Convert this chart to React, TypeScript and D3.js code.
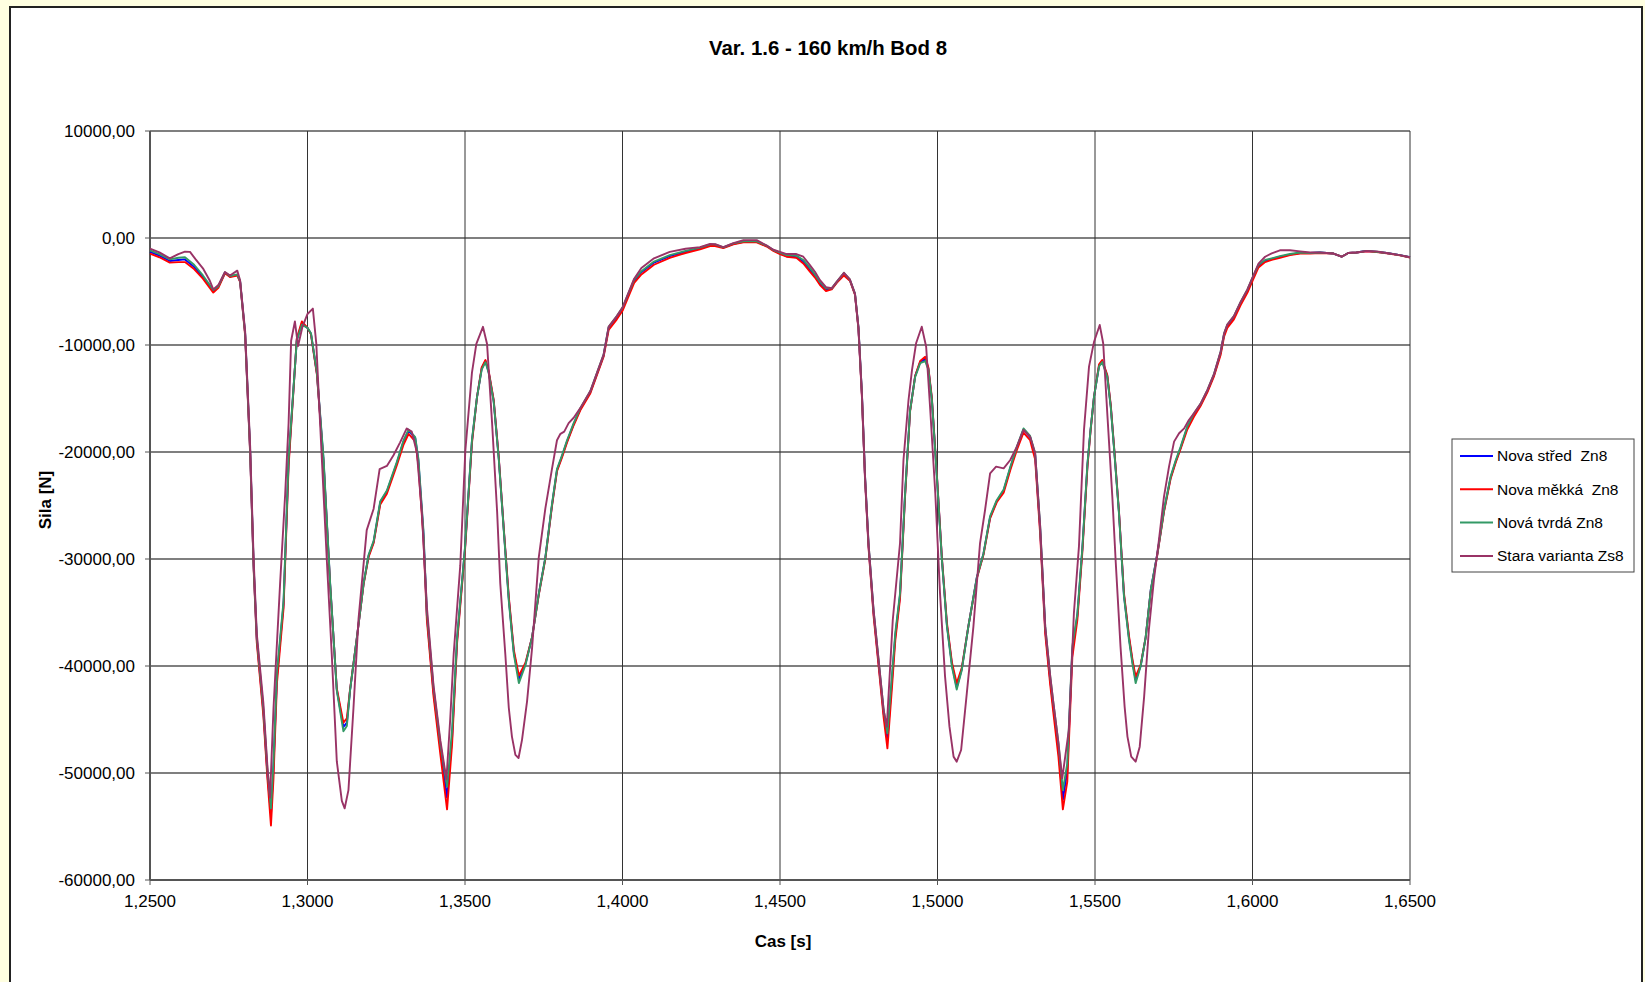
import React from "react";
import * as d3 from "d3";

// Time samples [s] shared by the three new variants
const tNew = [
  1.25, 1.253, 1.2563, 1.259, 1.2611, 1.264, 1.2668, 1.2701, 1.2717, 1.2738, 1.2754, 1.2777, 1.2786, 1.2802,
  1.2818, 1.2829, 1.2839, 1.286, 1.2873, 1.2884, 1.2892, 1.2903, 1.2924, 1.294, 1.2966, 1.2982, 1.3, 1.3011,
  1.303, 1.3051, 1.3072, 1.3093, 1.3114, 1.3125, 1.3135, 1.3157, 1.3178, 1.3194, 1.321, 1.3231, 1.3252, 1.3284,
  1.3305, 1.3321, 1.3342, 1.3352, 1.3368, 1.3379, 1.34, 1.3422, 1.3443, 1.3459, 1.3475, 1.35, 1.3522, 1.3538,
  1.3553, 1.3565, 1.3575, 1.3591, 1.3607, 1.3623, 1.3639, 1.3655, 1.3671, 1.3692, 1.3713, 1.3734, 1.3755, 1.3776,
  1.3792, 1.3808, 1.3824, 1.3845, 1.3866, 1.3898, 1.3919, 1.394, 1.3956, 1.3982, 1.4, 1.4037, 1.406, 1.41,
  1.415, 1.42, 1.4246, 1.4278, 1.4294, 1.432, 1.4352, 1.4384, 1.4426, 1.4458, 1.4479, 1.45, 1.4521, 1.4552,
  1.4574, 1.4595, 1.4611, 1.4627, 1.4646, 1.4664, 1.468, 1.4703, 1.4722, 1.4738, 1.4749, 1.476, 1.477, 1.4781,
  1.4797, 1.4813, 1.4829, 1.4841, 1.4855, 1.4866, 1.4881, 1.4897, 1.4913, 1.4929, 1.4945, 1.4961, 1.4971, 1.4982,
  1.4998, 1.5014, 1.503, 1.5046, 1.5061, 1.5077, 1.5098, 1.5125, 1.5146, 1.5167, 1.5188, 1.521, 1.5231, 1.5252,
  1.5273, 1.5294, 1.531, 1.5326, 1.5342, 1.5358, 1.5368, 1.5384, 1.5398, 1.5412, 1.5428, 1.5444, 1.546, 1.5476,
  1.5486, 1.5497, 1.5513, 1.5523, 1.5539, 1.555, 1.556, 1.5576, 1.5592, 1.5608, 1.5619, 1.5629, 1.5645, 1.5661,
  1.5677, 1.5698, 1.5719, 1.574, 1.5756, 1.5772, 1.5793, 1.5814, 1.5835, 1.5857, 1.5878, 1.5899, 1.591, 1.592,
  1.5941, 1.5962, 1.5984, 1.6, 1.6019, 1.604, 1.6061, 1.6087, 1.6119, 1.6151, 1.6183, 1.6214, 1.6257, 1.6283,
  1.6304, 1.633, 1.6362, 1.6394, 1.6426, 1.6468, 1.65,
];

// Nova tvrdá Zn8 [N]
const novaTvrda = [
  -1150, -1500, -2000, -1850, -1800, -2500, -3500, -4850, -4500, -3200, -3550, -3400, -4000, -8900,
  -19900, -30600, -37300, -44000, -49800, -53300, -49000, -40600, -33900, -20600, -9600, -8100, -8400, -8900,
  -12600, -20600, -32300, -42300, -46100, -45600, -42300, -37300, -32300, -29600, -28300, -24600, -23600, -20900,
  -18900, -17900, -18600, -20600, -27300, -35000, -42000, -47300, -51300, -46000, -37300, -28900, -18900, -14900,
  -12300, -11600, -12600, -15300, -20600, -27300, -33900, -38900, -41600, -39900, -37300, -33300, -29900, -24900,
  -21600, -20300, -18900, -17300, -15900, -14300, -12600, -10900, -8300, -7300, -6500, -3900, -3100, -2200,
  -1600, -1200, -900, -600, -600, -875, -500, -310, -310, -720, -1125, -1375, -1600, -1650,
  -2050, -2800, -3400, -4100, -4700, -4700, -4100, -3250, -3900, -5200, -8300, -14500, -22300, -28500,
  -34800, -39400, -44100, -46300, -41000, -36900, -33200, -23900, -16100, -13000, -11700, -11500, -12300, -15100,
  -22300, -30100, -36300, -40100, -42200, -40400, -36300, -31700, -29500, -26000, -24500, -23500, -21400, -19500,
  -17800, -18500, -20100, -27000, -36300, -41000, -43500, -47200, -51600, -49100, -38200, -35100, -28900, -21100,
  -17900, -14800, -12000, -11600, -13000, -15800, -19500, -25700, -33500, -37600, -39800, -41600, -40000, -37300,
  -32900, -29500, -25400, -22300, -20800, -19500, -17600, -16400, -15500, -14200, -12700, -10600, -8900, -8100,
  -7300, -6000, -4800, -3700, -2500, -2050, -1900, -1700, -1500, -1350, -1400, -1350, -1450, -1750,
  -1400, -1350, -1200, -1280, -1400, -1600, -1800,
];

// Nova střed Zn8 [N]
const novaStred = [
  -1300, -1650, -2150, -2050, -2000, -2700, -3650, -4950, -4550, -3250, -3600, -3450, -4050, -8950,
  -20000, -30700, -37500, -44300, -50200, -53900, -49500, -41000, -34200, -20900, -9500, -8000, -8400, -8950,
  -12700, -20800, -32400, -42200, -45700, -45300, -42300, -37300, -32300, -29700, -28400, -24700, -23700, -21000,
  -19000, -18000, -18700, -20800, -27600, -35300, -42400, -47700, -52300, -46700, -37500, -29000, -19000, -14900,
  -12200, -11500, -12500, -15200, -20500, -27200, -33700, -38700, -41200, -39800, -37300, -33300, -29900, -25000,
  -21700, -20400, -19000, -17400, -16000, -14400, -12700, -11000, -8400, -7400, -6600, -4000, -3200, -2300,
  -1700, -1300, -950, -650, -650, -900, -550, -350, -350, -750, -1150, -1450, -1700, -1800,
  -2200, -3000, -3550, -4250, -4800, -4750, -4150, -3350, -3950, -5250, -8400, -14600, -22400, -28700,
  -35000, -39700, -44400, -46900, -41500, -37200, -33400, -24000, -16100, -12900, -11600, -11300, -12200, -15000,
  -22200, -30000, -36200, -39900, -42000, -40300, -36300, -31700, -29500, -26100, -24600, -23600, -21500, -19600,
  -17900, -18600, -20300, -27300, -36600, -41400, -43900, -47800, -52500, -49800, -38600, -35300, -29000, -21200,
  -17900, -14800, -11900, -11500, -12900, -15700, -19400, -25600, -33400, -37400, -39600, -41300, -40000, -37300,
  -32900, -29500, -25500, -22400, -20900, -19600, -17700, -16500, -15600, -14300, -12800, -10700, -9000, -8200,
  -7400, -6100, -4900, -3800, -2600, -2150, -1950, -1750, -1550, -1400, -1400, -1350, -1450, -1750,
  -1400, -1350, -1220, -1300, -1400, -1600, -1800,
];

// Nova měkká Zn8 [N]
const novaMekka = [
  -1450, -1800, -2300, -2250, -2250, -2900, -3800, -5100, -4650, -3300, -3650, -3500, -4100, -9100,
  -20200, -30900, -37800, -44700, -50600, -54900, -50500, -41600, -34600, -21300, -9400, -7800, -8400, -9000,
  -12800, -21000, -32500, -42100, -45300, -44900, -42200, -37300, -32400, -29800, -28500, -24900, -23900, -21200,
  -19300, -18300, -19000, -21200, -28000, -35700, -42800, -48300, -53400, -47300, -37800, -29200, -19200, -14900,
  -12100, -11400, -12400, -15100, -20400, -27100, -33500, -38500, -40900, -39700, -37300, -33400, -30000, -25100,
  -21800, -20500, -19100, -17500, -16100, -14500, -12800, -11100, -8600, -7600, -6800, -4200, -3400, -2500,
  -1850, -1400, -1050, -750, -750, -950, -600, -400, -400, -800, -1200, -1500, -1750, -1850,
  -2375, -3150, -3700, -4400, -4950, -4800, -4200, -3500, -4000, -5300, -8500, -14800, -22600, -28900,
  -35300, -40000, -44800, -47700, -42200, -37600, -33700, -24200, -16200, -12900, -11500, -11100, -12100, -14900,
  -22100, -29900, -36000, -39700, -41600, -40200, -36300, -31800, -29600, -26200, -24700, -23800, -21700, -19800,
  -18200, -18900, -20700, -27700, -37000, -41800, -44400, -48500, -53400, -50800, -39200, -35700, -29300, -21400,
  -18000, -14800, -11800, -11400, -12800, -15600, -19300, -25500, -33200, -37200, -39400, -41000, -39900, -37300,
  -33000, -29600, -25600, -22500, -21000, -19700, -17900, -16700, -15700, -14400, -12900, -10900, -9200, -8400,
  -7600, -6300, -5100, -4000, -2750, -2250, -2050, -1850, -1600, -1450, -1450, -1400, -1450, -1750,
  -1400, -1350, -1250, -1320, -1420, -1620, -1820,
];

// Time samples [s] of the old variant
const tOld = [
  1.25, 1.253, 1.2563, 1.259, 1.2611, 1.2627, 1.2645, 1.2668, 1.269, 1.2701, 1.2717, 1.2738, 1.2754, 1.2777,
  1.2786, 1.2802, 1.2818, 1.2829, 1.2839, 1.286, 1.2873, 1.2881, 1.2892, 1.2913, 1.2929, 1.294, 1.2948, 1.296,
  1.297, 1.2984, 1.3, 1.3017, 1.3028, 1.304, 1.3061, 1.3077, 1.3093, 1.3109, 1.3118, 1.313, 1.3146, 1.3162,
  1.3188, 1.321, 1.3229, 1.3252, 1.3273, 1.3294, 1.3315, 1.3331, 1.3347, 1.3363, 1.3379, 1.34, 1.3422, 1.3441,
  1.3453, 1.3464, 1.3485, 1.3501, 1.3522, 1.3536, 1.3557, 1.357, 1.3586, 1.3602, 1.3612, 1.3628, 1.3639, 1.3649,
  1.366, 1.367, 1.3681, 1.3697, 1.3713, 1.3734, 1.3755, 1.3776, 1.3792, 1.3803, 1.3815, 1.3829, 1.3845, 1.3866,
  1.3898, 1.3919, 1.394, 1.3956, 1.3982, 1.4, 1.4037, 1.406, 1.41, 1.415, 1.42, 1.4246, 1.4278, 1.4294,
  1.432, 1.4352, 1.4384, 1.4426, 1.4458, 1.4479, 1.45, 1.4521, 1.4552, 1.4574, 1.4595, 1.4611, 1.4627, 1.4646,
  1.4664, 1.468, 1.4703, 1.4722, 1.4738, 1.4749, 1.476, 1.477, 1.4781, 1.4797, 1.4813, 1.4829, 1.4839, 1.4858,
  1.4881, 1.4892, 1.4908, 1.4919, 1.4932, 1.495, 1.4964, 1.4977, 1.4993, 1.5008, 1.5024, 1.5038, 1.5051, 1.5061,
  1.5075, 1.5093, 1.5114, 1.5135, 1.5151, 1.5167, 1.5186, 1.521, 1.5231, 1.5252, 1.5273, 1.5294, 1.531, 1.5326,
  1.5342, 1.5358, 1.5368, 1.5384, 1.5396, 1.5417, 1.5433, 1.5449, 1.5465, 1.5481, 1.5497, 1.5515, 1.5526, 1.5539,
  1.5555, 1.5566, 1.5581, 1.5594, 1.5603, 1.5615, 1.5629, 1.5642, 1.5656, 1.5671, 1.5687, 1.5703, 1.5719, 1.5735,
  1.5751, 1.5767, 1.5783, 1.5798, 1.5814, 1.5835, 1.5857, 1.5878, 1.5899, 1.591, 1.592, 1.5941, 1.5962, 1.5984,
  1.6, 1.6019, 1.604, 1.6061, 1.6087, 1.6119, 1.6151, 1.6183, 1.6214, 1.6257, 1.6283, 1.6304, 1.633, 1.6362,
  1.6394, 1.6426, 1.6468, 1.65,
];

// Stara varianta Zs8 [N]
const staraVarianta = [
  -1000, -1350, -1900, -1500, -1280, -1300, -2000, -2830, -4000, -4800, -4400, -3180, -3500, -3050,
  -3950, -8700, -19500, -30000, -37000, -43500, -49500, -52300, -44000, -32300, -24000, -17300, -9600, -7800,
  -10100, -8300, -7100, -6600, -9900, -17300, -29900, -38900, -48900, -52600, -53300, -51600, -43900, -35600,
  -27300, -25300, -21600, -21300, -20300, -19100, -17800, -18100, -20000, -25600, -34500, -41800, -47000, -50600,
  -45000, -38900, -30600, -19900, -12600, -9900, -8300, -9900, -17300, -25600, -32300, -38900, -43900, -46600,
  -48300, -48600, -46900, -43300, -38300, -29900, -25300, -21600, -18900, -18300, -18100, -17300, -16800, -15900,
  -14300, -12600, -10900, -8300, -7300, -6500, -3800, -2800, -1900, -1300, -1000, -850, -550, -580,
  -850, -480, -200, -200, -700, -1100, -1300, -1500, -1500, -1750, -2530, -3150, -3940, -4600,
  -4700, -4090, -3250, -3875, -5190, -8310, -14520, -22300, -28530, -34760, -39440, -44110, -45670, -35700,
  -28530, -20750, -15140, -12340, -9840, -8290, -10160, -16070, -23860, -33210, -41000, -45670, -48470, -48940,
  -47850, -42550, -36320, -28530, -25420, -21990, -21370, -21530, -20750, -19500, -17940, -18570, -20120, -26980,
  -36320, -41000, -43480, -47220, -50500, -45980, -35070, -28850, -17940, -12020, -9690, -8130, -9840, -16390,
  -24170, -30400, -38190, -43800, -46600, -48470, -48940, -47540, -42860, -36630, -31960, -28220, -24170, -21370,
  -19030, -18250, -17790, -17010, -16390, -15500, -14200, -12700, -10600, -8900, -8100, -7300, -6000, -4800,
  -3700, -2400, -1750, -1440, -1150, -1150, -1250, -1350, -1350, -1450, -1750, -1400, -1350, -1200,
  -1250, -1400, -1600, -1800,
];

const seriesNames = ["Nova střed  Zn8", "Nova měkká  Zn8", "Nová tvrdá Zn8", "Stara varianta Zs8"];
const seriesColors = ["#0000ff", "#ff0000", "#339966", "#993366"];

const xTicks = [1.25, 1.3, 1.35, 1.4, 1.45, 1.5, 1.55, 1.6, 1.65];
const yTicks = [10000, 0, -10000, -20000, -30000, -40000, -50000, -60000];

const W = 1645;
const H = 982;
const plot = { left: 150, top: 131, right: 1410, bottom: 880 };
const FONT = "'Liberation Sans', Arial, sans-serif";

const fmtX = (v: number) => v.toFixed(4).replace(".", ",");
const fmtY = (v: number) => v.toFixed(2).replace(".", ",");

export default function App() {
  const x = d3.scaleLinear().domain([1.25, 1.65]).range([plot.left, plot.right]);
  const y = d3.scaleLinear().domain([-60000, 10000]).range([plot.bottom, plot.top]);

  const line = d3
    .line<[number, number]>()
    .x((d) => x(d[0]))
    .y((d) => y(d[1]));

  const series = [
    { name: seriesNames[0], color: seriesColors[0], pts: tNew.map((t, i) => [t, novaStred[i]] as [number, number]) },
    { name: seriesNames[1], color: seriesColors[1], pts: tNew.map((t, i) => [t, novaMekka[i]] as [number, number]) },
    { name: seriesNames[2], color: seriesColors[2], pts: tNew.map((t, i) => [t, novaTvrda[i]] as [number, number]) },
    { name: seriesNames[3], color: seriesColors[3], pts: tOld.map((t, i) => [t, staraVarianta[i]] as [number, number]) },
  ];

  const legend = { x: 1452, y: 439, w: 182, h: 133 };

  return (
    <svg
      width={W}
      height={H}
      style={{ position: "absolute", left: 0, top: 0, display: "block" }}
      fontFamily={FONT}
    >
      <rect x={0} y={0} width={W} height={H} fill="#ffffe1" />
      <rect x={10} y={7} width={1632} height={H + 10} fill="#ffffff" stroke="#222" strokeWidth={2} />

      {/* title */}
      <text x={828} y={55} textAnchor="middle" fontSize={20.4} fontWeight="bold" fill="#000">
        Var. 1.6 - 160 km/h Bod 8
      </text>

      {/* grid */}
      {yTicks.map((v) => (
        <line key={"gy" + v} x1={plot.left} x2={plot.right} y1={y(v)} y2={y(v)} stroke="#555" strokeWidth={1.3} />
      ))}
      {xTicks.map((v) => (
        <line key={"gx" + v} x1={x(v)} x2={x(v)} y1={plot.top} y2={plot.bottom} stroke="#333" strokeWidth={1} />
      ))}

      {/* axes */}
      <line x1={plot.left} x2={plot.left} y1={plot.top} y2={plot.bottom} stroke="#555" strokeWidth={2} />
      <line x1={plot.left} x2={plot.right} y1={plot.bottom} y2={plot.bottom} stroke="#555" strokeWidth={2} />
      {yTicks.map((v) => (
        <g key={"ty" + v}>
          <line x1={plot.left - 5} x2={plot.left} y1={y(v)} y2={y(v)} stroke="#555" strokeWidth={1} />
          <text x={135} y={y(v)} dy="0.35em" textAnchor="end" fontSize={17} fill="#000">
            {fmtY(v)}
          </text>
        </g>
      ))}
      {xTicks.map((v) => (
        <g key={"tx" + v}>
          <line x1={x(v)} x2={x(v)} y1={plot.bottom} y2={plot.bottom + 5} stroke="#555" strokeWidth={1} />
          <text x={x(v)} y={907} textAnchor="middle" fontSize={17} fill="#000">
            {fmtX(v)}
          </text>
        </g>
      ))}

      {/* axis titles */}
      <text x={783} y={947} textAnchor="middle" fontSize={17} fontWeight="bold" fill="#000">
        Cas [s]
      </text>
      <text
        transform={`translate(51, 500) rotate(-90)`}
        textAnchor="middle"
        fontSize={17}
        fontWeight="bold"
        fill="#000"
      >
        Sila [N]
      </text>

      {/* series */}
      {series.map((s) => (
        <path key={s.name} d={line(s.pts) || ""} fill="none" stroke={s.color} strokeWidth={1.9} strokeLinejoin="round" />
      ))}

      {/* legend */}
      <rect x={legend.x} y={legend.y} width={legend.w} height={legend.h} fill="#fff" stroke="#444" strokeWidth={1} />
      {series.map((s, i) => {
        const ly = 456 + i * 33.3;
        return (
          <g key={"lg" + i}>
            <line x1={1460} x2={1493} y1={ly} y2={ly} stroke={s.color} strokeWidth={2} />
            <text x={1497} y={ly} dy="0.35em" fontSize={15.5} fill="#000" style={{ whiteSpace: "pre" }}>
              {s.name}
            </text>
          </g>
        );
      })}
    </svg>
  );
}
